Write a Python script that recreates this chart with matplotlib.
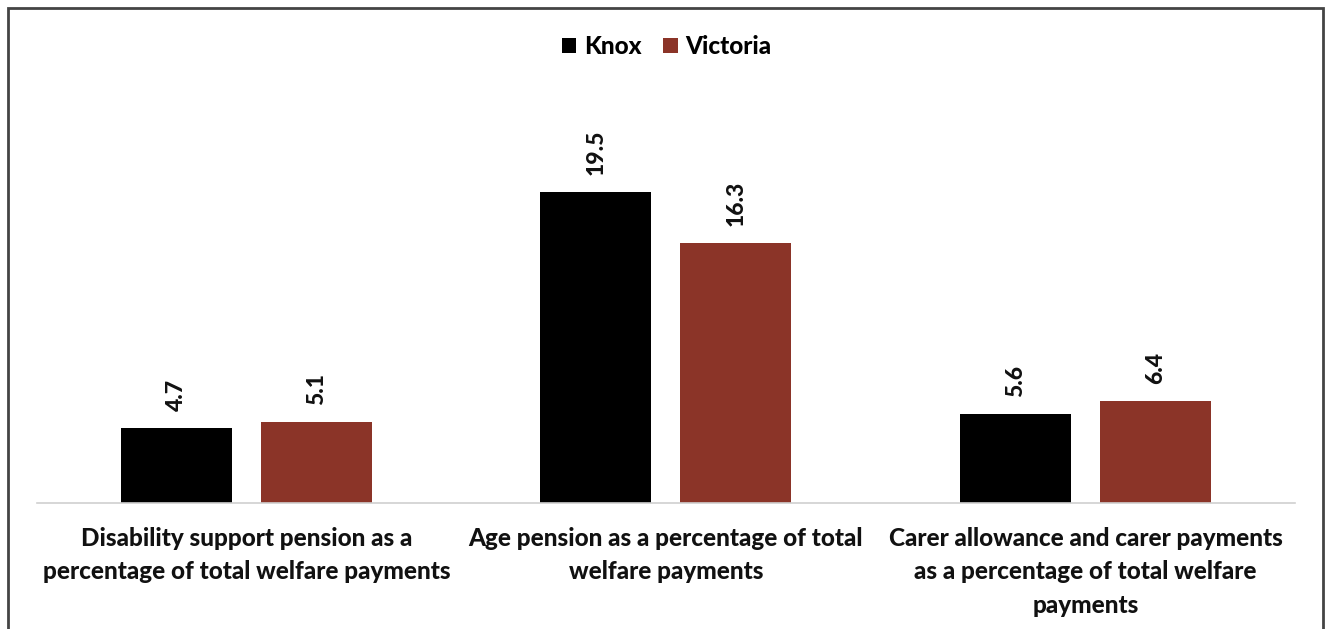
import matplotlib.pyplot as plt
from matplotlib.patches import Rectangle
import numpy as np

categories = [
    "Disability support pension as a\npercentage of total welfare payments",
    "Age pension as a percentage of total\nwelfare payments",
    "Carer allowance and carer payments\nas a percentage of total welfare\npayments",
]
knox = [4.7, 19.5, 5.6]
victoria = [5.1, 16.3, 6.4]

KNOX_COLOR = "#000000"
VIC_COLOR = "#8B3428"
TEXT_COLOR = "#111111"

plt.rcParams["font.family"] = ["Lato", "DejaVu Sans"]

fig = plt.figure(figsize=(13.25, 6.29), dpi=100)
ax = fig.add_axes([0.0277, 0.2003, 0.9498, 0.6727])

x = np.arange(len(categories))
width = 0.2646
offset = 0.1669

bars_k = ax.bar(x - offset, knox, width, color=KNOX_COLOR, label="Knox")
bars_v = ax.bar(x + offset, victoria, width, color=VIC_COLOR, label="Victoria")

# rotated value labels above each bar
for bars in (bars_k, bars_v):
    for b in bars:
        h = b.get_height()
        ax.annotate(f"{h:.1f}", (b.get_x() + b.get_width() / 2, h),
                    xytext=(0, 12), textcoords="offset points",
                    rotation=90, ha="center", va="bottom",
                    fontsize=16.5, fontweight="black", color=TEXT_COLOR)

ax.set_xlim(-0.5, 2.5)
ax.set_ylim(0, 26.52)
ax.set_yticks([])
ax.set_xticks(x)
ax.set_xticklabels(categories, fontsize=17.5, fontweight="black", color=TEXT_COLOR,
                   linespacing=1.55)
ax.tick_params(axis="x", length=0, pad=17)
for side in ("top", "right", "left"):
    ax.spines[side].set_visible(False)
ax.spines["bottom"].set_color("#d0d0d0")
ax.spines["bottom"].set_linewidth(1.2)

fig.legend(loc="center", bbox_to_anchor=(0.503, 0.926), ncol=2, frameon=False,
           prop={"size": 17.5, "weight": "black"}, handlelength=0.6, handleheight=0.6,
           handletextpad=0.3, columnspacing=0.9)

# outer frame (open at the bottom)
fig.patches.append(Rectangle((8 / 1325, -0.05), 1315 / 1325, 1.05 - 8 / 629,
                             transform=fig.transFigure, fill=False,
                             edgecolor="#444444", linewidth=2, clip_on=False))

fig.savefig("out.png", dpi=100)
